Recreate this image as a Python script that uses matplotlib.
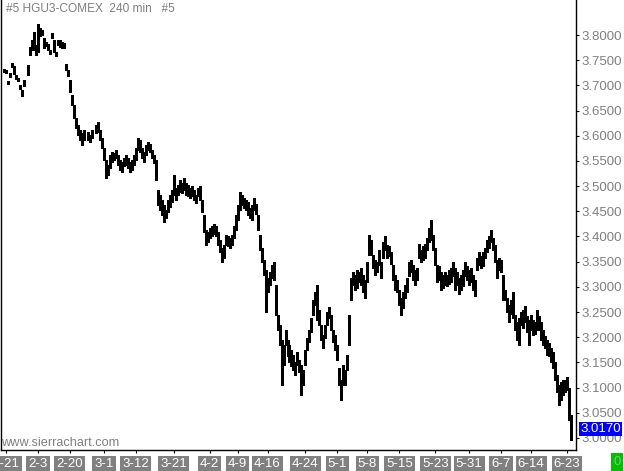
import numpy as np
import matplotlib
matplotlib.use("Agg")
import matplotlib.pyplot as plt
import matplotlib.transforms as mtransforms

nan = np.nan

# 240 min bars, high / low (HGU3 COMEX copper)
highs = [
    3.733, 3.731, 3.709, 3.725, 3.744, 3.738, 3.721, 3.715, 3.701, 3.691,
    3.711, nan, 3.740, 3.776, 3.790, 3.806, 3.780, 3.822, 3.814, 3.810,
    3.794, 3.786, 3.782, 3.770, 3.804, 3.790, 3.766, 3.790, 3.790, 3.786,
    3.784, 3.742, 3.731, 3.711, 3.681, 3.661, 3.635, 3.621, 3.612, 3.605,
    3.612, nan, 3.607, 3.601, 3.612, nan, 3.621, 3.627, 3.612, 3.596,
    3.576, 3.552, 3.542, 3.562, 3.568, 3.566, 3.572, 3.562, 3.552, 3.548,
    3.556, 3.562, 3.556, 3.548, 3.552, 3.562, 3.576, 3.596, 3.592, 3.576,
    3.568, 3.582, 3.588, 3.584, 3.572, 3.562, 3.552, 3.492, 3.482, 3.472,
    3.463, 3.453, 3.472, 3.482, 3.492, 3.522, 3.496, 3.502, 3.512, 3.506,
    3.516, 3.506, 3.502, 3.496, 3.500, 3.492, 3.482, 3.496, 3.500, 3.472,
    3.443, 3.413, 3.409, 3.417, 3.421, 3.425, 3.421, 3.409, 3.393, 3.377,
    3.383, 3.403, 3.401, 3.397, 3.403, 3.421, 3.443, 3.463, 3.488, 3.482,
    3.476, 3.472, 3.469, 3.457, 3.463, 3.476, 3.465, 3.443, 3.403, 3.377,
    3.353, 3.334, 3.318, 3.330, 3.343, 3.349, 3.304, 3.244, 3.224, 3.195,
    3.185, 3.214, 3.195, 3.185, 3.175, 3.165, 3.151, 3.171, 3.155, 3.145,
    3.135, 3.175, 3.199, 3.214, 3.238, 3.274, 3.290, 3.304, 3.254, 3.224,
    3.205, 3.224, 3.250, 3.260, 3.244, 3.214, 3.205, 3.185, 3.139, 3.115,
    3.145, 3.135, 3.165, 3.244, 3.318, 3.330, 3.324, 3.334, 3.330, 3.337,
    3.324, 3.314, 3.349, 3.403, 3.393, 3.363, 3.353, 3.349, 3.373, 3.349,
    3.389, 3.401, 3.383, 3.381, 3.369, 3.343, 3.324, 3.314, 3.294, 3.278,
    3.290, 3.304, 3.318, 3.349, 3.353, 3.343, 3.334, 3.337, 3.385, 3.373,
    3.381, 3.385, 3.397, 3.417, 3.433, 3.403, 3.377, 3.343, 3.341, 3.330,
    3.324, 3.330, 3.324, 3.334, 3.337, 3.349, 3.337, 3.330, 3.318, 3.324,
    3.334, 3.349, 3.341, 3.334, 3.337, 3.324, 3.314, 3.357, 3.369, 3.361,
    3.369, 3.377, 3.393, 3.401, 3.413, 3.397, 3.383, 3.353, 3.357, 3.353,
    3.324, 3.294, 3.278, 3.264, 3.274, 3.290, 3.244, 3.230, 3.238, 3.250,
    3.254, 3.262, 3.242, 3.234, 3.244, 3.234, 3.230, 3.254, 3.242, 3.230,
    3.214, 3.203, 3.195, 3.189, 3.179, 3.171, 3.151, 3.125, 3.105, 3.111,
    3.115, 3.115, 3.121, 3.099, 3.046,
]
lows = [
    3.727, 3.725, 3.703, 3.717, 3.736, 3.723, 3.713, 3.709, 3.693, 3.679,
    3.699, nan, 3.721, 3.760, 3.770, 3.770, 3.760, 3.766, 3.798, 3.800,
    3.774, 3.778, 3.770, 3.762, 3.794, 3.766, 3.758, 3.780, 3.776, 3.774,
    3.774, 3.731, 3.719, 3.687, 3.661, 3.635, 3.615, 3.601, 3.592, 3.582,
    3.592, nan, 3.592, 3.588, 3.596, nan, 3.605, 3.607, 3.592, 3.576,
    3.552, 3.516, 3.522, 3.536, 3.548, 3.552, 3.556, 3.542, 3.532, 3.528,
    3.540, 3.542, 3.536, 3.528, 3.532, 3.542, 3.552, 3.572, 3.568, 3.556,
    3.548, 3.562, 3.572, 3.568, 3.556, 3.546, 3.512, 3.463, 3.453, 3.443,
    3.429, 3.437, 3.449, 3.459, 3.469, 3.482, 3.472, 3.482, 3.488, 3.486,
    3.492, 3.482, 3.480, 3.476, 3.480, 3.472, 3.467, 3.480, 3.472, 3.449,
    3.409, 3.383, 3.389, 3.397, 3.401, 3.405, 3.401, 3.383, 3.369, 3.349,
    3.357, 3.383, 3.381, 3.377, 3.383, 3.397, 3.413, 3.433, 3.453, 3.463,
    3.457, 3.453, 3.443, 3.437, 3.433, 3.453, 3.445, 3.413, 3.373, 3.349,
    3.324, 3.250, 3.290, 3.304, 3.318, 3.314, 3.244, 3.214, 3.185, 3.105,
    3.145, 3.185, 3.163, 3.151, 3.143, 3.135, 3.125, 3.145, 3.131, 3.085,
    3.105, 3.145, 3.175, 3.191, 3.210, 3.244, 3.264, 3.234, 3.224, 3.195,
    3.179, 3.199, 3.224, 3.238, 3.214, 3.191, 3.175, 3.155, 3.105, 3.076,
    3.105, 3.105, 3.135, 3.185, 3.274, 3.304, 3.294, 3.298, 3.310, 3.304,
    3.290, 3.278, 3.310, 3.363, 3.363, 3.337, 3.324, 3.330, 3.343, 3.318,
    3.357, 3.373, 3.357, 3.361, 3.345, 3.314, 3.294, 3.290, 3.264, 3.244,
    3.258, 3.278, 3.290, 3.322, 3.330, 3.314, 3.304, 3.314, 3.357, 3.349,
    3.353, 3.357, 3.373, 3.389, 3.393, 3.373, 3.343, 3.310, 3.314, 3.294,
    3.298, 3.304, 3.302, 3.306, 3.310, 3.322, 3.294, 3.304, 3.286, 3.294,
    3.302, 3.322, 3.314, 3.304, 3.310, 3.294, 3.282, 3.334, 3.343, 3.337,
    3.341, 3.357, 3.369, 3.377, 3.389, 3.373, 3.349, 3.318, 3.334, 3.330,
    3.274, 3.274, 3.250, 3.230, 3.246, 3.238, 3.214, 3.195, 3.185, 3.224,
    3.218, 3.230, 3.210, 3.185, 3.214, 3.205, 3.207, 3.214, 3.214, 3.195,
    3.185, 3.179, 3.165, 3.163, 3.151, 3.139, 3.115, 3.091, 3.066, 3.076,
    3.085, 3.091, 3.095, 3.036, 2.996,
]
last_price = 3.017

date_labels = ["1-21", "2-3", "2-20", "3-1", "3-12", "3-21", "4-2", "4-9", "4-16",
               "4-24", "5-1", "5-8", "5-15", "5-23", "5-31", "6-7", "6-14", "6-23"]
date_bars = [1, 17, 33, 50, 66, 85, 103, 117, 132, 151, 167, 182, 198, 216, 233,
             249, 264, 282]
price_ticks = [3.00, 3.05, 3.10, 3.15, 3.20, 3.25, 3.30, 3.35, 3.40, 3.45, 3.50,
               3.55, 3.60, 3.65, 3.70, 3.75, 3.80]

FONT = ["Liberation Sans Narrow", "Liberation Sans", "DejaVu Sans"]
GRAY = "#808080"
FS = 9.5

fig = plt.figure(figsize=(6.24, 4.71), dpi=100)
fig.patch.set_facecolor("white")
ax = fig.add_axes([1 / 624, 21 / 471, 575 / 624, 450 / 471])

idx = np.arange(len(highs))
ax.vlines(idx, lows, highs, color="black", linewidth=0.8, antialiased=False)

ax.set_xlim(-1.5, len(highs) + 1.5)
ax.set_ylim(2.976, 3.8695)

ax.spines["top"].set_visible(False)
for s in ("left", "right", "bottom"):
    ax.spines[s].set_color("black")
    ax.spines[s].set_linewidth(1.0)

ax.yaxis.tick_right()
ax.set_yticks(price_ticks)
ax.set_yticklabels(["%.4f" % p for p in price_ticks])
ax.tick_params(axis="y", direction="out", length=2.5, width=0.8, pad=1.5,
               labelsize=FS, colors="black")
ax.tick_params(axis="y", labelcolor=GRAY)

ax.set_xticks(date_bars)
ax.set_xticklabels(date_labels)
ax.tick_params(axis="x", direction="out", length=2.5, width=0.8, pad=3,
               labelcolor="white", labelsize=FS)
for lab in ax.get_xticklabels() + ax.get_yticklabels():
    lab.set_family(FONT)
for lab in ax.get_xticklabels():
    lab.set_bbox(dict(facecolor=GRAY, edgecolor="none", pad=1.5))

# last price marker on the price scale
trans = mtransforms.blended_transform_factory(ax.transAxes, ax.transData)
ax.text(1.0075, last_price, "%.4f" % last_price, transform=trans, color="white",
        fontsize=FS, family=FONT, va="center", ha="left",
        bbox=dict(facecolor="#0000ff", edgecolor="none", pad=0.8))

fig.text(6 / 624, 1 - 9 / 471, "#5 HGU3-COMEX  240 min   #5", color=GRAY,
         fontsize=8.6, family=FONT, va="center", ha="left")
fig.text(1 / 624, 1 - 443 / 471, "www.sierrachart.com", color=GRAY,
         fontsize=9.2, family=FONT, va="center", ha="left")
fig.text(617 / 624, 1 - 462 / 471, "0", color="#8fbc8f", fontsize=FS, family=FONT,
         va="center", ha="center",
         bbox=dict(facecolor="#00c000", edgecolor="none", pad=2))

fig.savefig("out.png", dpi=100)
